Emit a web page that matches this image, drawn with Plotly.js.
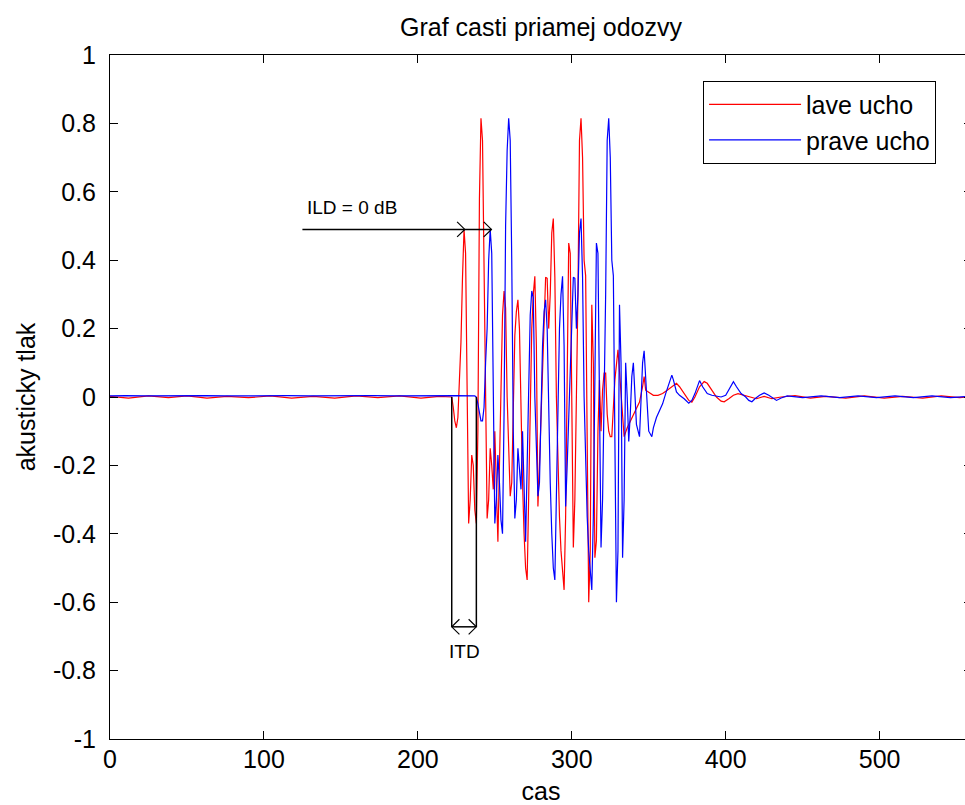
<!DOCTYPE html>
<html>
<head>
<meta charset="utf-8">
<script src="https://cdn.plot.ly/plotly-3.0.1.min.js"></script>
<style>
html,body{margin:0;padding:0;overflow:hidden;background:#ffffff;}
#chart{width:1000px;height:805px;}
</style>
</head>
<body>
<div id="chart"></div>
<script>
// ---- texts ----
const chartTitle = 'Graf casti priamej odozvy';
const xTitle = 'cas';
const yTitle = 'akusticky tlak';
const seriesNames = ['lave ucho', 'prave ucho'];
const ildLabel = 'ILD = 0 dB';
const itdLabel = 'ITD';

// ---- ticks ----
const xTickVals = [0, 100, 200, 300, 400, 500];
const xTickText = ['0', '100', '200', '300', '400', '500'];
const yTickVals = [-1, -0.8, -0.6, -0.4, -0.2, 0, 0.2, 0.4, 0.6, 0.8, 1];
const yTickText = ['-1', '-0.8', '-0.6', '-0.4', '-0.2', '0', '0.2', '0.4', '0.6', '0.8', '1'];

// ---- lave ucho (left ear) samples ----
const redX = [0,12,25,38,50,63,76,90,104,118,132,146,160,174,188,202,214,221,
  222,223,224,225,226,227,228,229,230,231,232,233,234,235,236,237,238,239,240,241,242,243,244,245,246,247,248,249,250,251,252,253,254,255,256,257,258,259,260,261,262,263,264,265,266,267,268,269,270,271,272,273,274,275,276,277,278,279,280,281,282,283,284,285,286,287,288,289,290,291,292,293,294,295,296,297,298,299,300,301,302,303,304,305,306,307,308,309,310,311,312,313,314,315,316,317,318,319,320,321,322,323,324,325,326,328,330,332,334,336,338,340,342,344,346,347,348,350,353,356,359,362,365,368,370,373,376,378,380,383,386,388,391,394,397,399,402,405,408,412,416,420,425,430,436,445,455,465,478,490,503,515,528,540,552,560];
const redY = [0.002,-0.003,0.003,-0.002,0.003,-0.003,0.002,-0.002,0.003,-0.003,0.002,-0.003,0.003,-0.002,0.003,-0.003,0.002,0,
  0,-0.03,-0.07,-0.09,-0.06,0.05,0.16,0.35,0.49,0.42,-0.05,-0.37,-0.3,-0.17,-0.2,-0.33,-0.37,-0.1,0.58,0.815,0.75,0.415,0,-0.355,-0.3,-0.15,-0.2,-0.27,-0.1,-0.3,-0.423,-0.2,0.05,0.24,0.31,0.26,0,-0.15,-0.29,-0.25,-0.05,0.18,0.25,0.284,0.2,-0.05,-0.25,-0.4,-0.5,-0.535,-0.3,0,0.2,0.3,0.353,0.15,-0.32,-0.2,-0.05,0.1,0.25,0.35,0.347,0.2,0.3,0.48,0.522,0.35,0,-0.2,-0.35,-0.45,-0.52,-0.564,-0.35,0.1,0.45,0.42,-0.1,-0.44,-0.3,-0.05,0.3,0.75,0.815,0.7,0.4,0.355,-0.2,-0.6,-0.45,0.27,0.1,-0.47,-0.42,-0.1,0.05,-0.1,0.02,0.07,0.07,-0.05,-0.1,-0.116,-0.116,0.05,0.138,0,-0.116,-0.09,-0.07,-0.05,-0.03,-0.015,0.03,0.06,0.02,0.015,0.005,0.005,0.01,0.02,0.03,0.04,0.03,0.01,-0.01,-0.015,0,0.03,0.045,0.04,0.02,0,-0.012,-0.014,-0.005,0.005,0.01,0.005,0,-0.005,0.002,-0.005,0,0.004,-0.003,0.002,-0.003,0.003,-0.003,0.002,-0.003,0.003,-0.002,0.002];

// ---- prave ucho (right ear) samples ----
const blueX = [0,10,23,36,49,62,75,88,101,115,129,143,157,171,185,199,212,225,237,
  238,239,240,241,242,243,244,245,246,247,248,249,250,251,252,253,254,255,256,257,258,259,260,261,262,263,264,265,266,267,268,269,270,271,272,273,274,275,276,277,278,279,280,281,282,283,284,285,286,287,288,289,290,291,292,293,294,295,296,297,298,299,300,301,302,303,304,305,306,307,308,309,310,311,312,313,314,315,316,317,318,319,320,321,322,323,324,325,326,327,328,329,330,331,332,333,334,335,336,337,338,339,340,341,342,344,345,346,347,348,349,350,352,353,355,357,359,361,363,365,366,368,370,373,376,378,380,382,383,385,388,391,394,397,400,403,405,407,410,413,415,417,419,422,425,428,431,433,436,440,450,462,474,486,498,510,522,534,546,560];
const blueY = [0.003,0.004,0.003,0.004,0.003,0.004,0.003,0.004,0.003,0.004,0.003,0.004,0.003,0.004,0.003,0.004,0.003,0.004,0.003,
  0,-0.02,-0.05,-0.07,-0.07,-0.03,0.1,0.2,0.4,0.49,0.42,-0.05,-0.37,-0.3,-0.17,-0.25,-0.36,-0.4,-0.05,0.5,0.72,0.815,0.75,0.4,-0.1,-0.355,-0.3,-0.15,-0.2,-0.27,-0.1,-0.3,-0.423,-0.2,0.05,0.24,0.31,0.29,0,-0.15,-0.29,-0.25,-0.05,0.15,0.25,0.284,0.2,-0.05,-0.25,-0.4,-0.5,-0.535,-0.3,0,0.2,0.3,0.353,0.15,-0.32,-0.2,-0.05,0.1,0.25,0.35,0.347,0.2,0.3,0.48,0.522,0.35,0,-0.2,-0.35,-0.45,-0.52,-0.564,-0.35,0.1,0.45,0.42,-0.1,-0.44,-0.3,-0.05,0.3,0.75,0.815,0.7,0.4,0.355,-0.2,-0.6,-0.45,0.27,0.1,-0.47,-0.3,0.1,0,-0.13,-0.05,0.06,0.1,0,-0.08,-0.116,0,0.1,0.135,0.06,-0.03,-0.1,-0.116,-0.09,-0.06,-0.04,-0.02,0.01,0.04,0.064,0.05,0.015,0.005,-0.005,-0.018,-0.01,0.01,0.04,0.048,0.03,0.01,0.005,0.002,0,0.005,0.03,0.045,0.03,0.01,0,-0.01,-0.014,-0.005,0.005,0.012,0.005,-0.005,-0.01,-0.003,0.003,-0.002,0.003,-0.002,0.003,-0.002,0.003,-0.002,0.003,-0.002,0.003];

// ---- annotation anchors (data units) ----
const ildStartX = 125, ildRedX = 230.5, ildBlueX = 247.8, ildY = 0.49;
const itdLeftX = 222, itdRightX = 238, itdTopY = 0, itdBottomY = -0.672;
const headDX = 5, headDY = 0.022;

const redTrace = {
  x: redX, y: redY, type: 'scatter', mode: 'lines', name: seriesNames[0],
  line: {color: '#ff0000', width: 1.2}
};
const blueTrace = {
  x: blueX, y: blueY, type: 'scatter', mode: 'lines', name: seriesNames[1],
  line: {color: '#0000ff', width: 1.2}
};

function chevronRight(x, y) {
  return `M${x - headDX},${y + headDY} L${x},${y} L${x - headDX},${y - headDY}`;
}
function chevronLeft(x, y) {
  return `M${x + headDX},${y + headDY} L${x},${y} L${x + headDX},${y - headDY}`;
}
const blackLine = {color: '#000000', width: 1.5};
const shapes = [
  {type: 'line', xref: 'x', yref: 'y', x0: ildStartX, x1: ildBlueX, y0: ildY, y1: ildY, line: blackLine},
  {type: 'path', xref: 'x', yref: 'y', path: chevronRight(ildRedX, ildY), line: {color: '#000', width: 1.2}},
  {type: 'path', xref: 'x', yref: 'y', path: chevronRight(ildBlueX, ildY), line: {color: '#000', width: 1.2}},
  {type: 'line', xref: 'x', yref: 'y', x0: itdLeftX, x1: itdLeftX, y0: itdTopY, y1: itdBottomY, line: blackLine},
  {type: 'line', xref: 'x', yref: 'y', x0: itdRightX, x1: itdRightX, y0: itdTopY, y1: itdBottomY, line: blackLine},
  {type: 'line', xref: 'x', yref: 'y', x0: itdLeftX, x1: itdRightX, y0: itdBottomY, y1: itdBottomY, line: blackLine},
  {type: 'path', xref: 'x', yref: 'y', path: chevronLeft(itdLeftX, itdBottomY), line: {color: '#000', width: 1.2}},
  {type: 'path', xref: 'x', yref: 'y', path: chevronRight(itdRightX, itdBottomY), line: {color: '#000', width: 1.2}}
];

const annotations = [
  {xref: 'x', yref: 'y', x: ildStartX + 2, y: 0.553, text: ildLabel, showarrow: false,
   xanchor: 'left', yanchor: 'middle', font: {size: 19, color: '#000'}},
  {xref: 'x', yref: 'y', x: (itdLeftX + itdRightX) / 2, y: -0.745, text: itdLabel, showarrow: false,
   xanchor: 'center', yanchor: 'middle', font: {size: 19, color: '#000'}}
];

const axisCommon = {
  showline: true, linecolor: '#000', linewidth: 1, mirror: 'ticks',
  ticks: 'inside', ticklen: 8, tickwidth: 1, tickcolor: '#000',
  showgrid: false, zeroline: false, tickfont: {size: 25, color: '#000'}
};

const layout = {
  width: 1000, height: 805,
  margin: {l: 110, r: 28, t: 55, b: 66},
  paper_bgcolor: '#ffffff', plot_bgcolor: '#ffffff',
  font: {family: '"Liberation Sans", Arial, sans-serif', size: 25, color: '#000'},
  title: {text: chartTitle, xref: 'paper', x: 0.5, xanchor: 'center',
          yref: 'container', y: 1 - 27 / 805, yanchor: 'middle', font: {size: 25, color: '#000'}},
  xaxis: Object.assign({}, axisCommon, {
    range: [0, 560], tickmode: 'array', tickvals: xTickVals, ticktext: xTickText,
    ticklabelstandoff: -2,
    title: {text: xTitle, font: {size: 25, color: '#000'}, standoff: 16}
  }),
  yaxis: Object.assign({}, axisCommon, {
    range: [-1, 1], tickmode: 'array', tickvals: yTickVals, ticktext: yTickText,
    ticklabelstandoff: 8,
    title: {text: yTitle, font: {size: 25, color: '#000'}, standoff: 10}
  }),
  showlegend: true,
  legend: {x: 0.688, y: 0.9624, xanchor: 'left', yanchor: 'top', xref: 'paper', yref: 'paper',
           bgcolor: '#ffffff', bordercolor: '#000000', borderwidth: 1,
           font: {size: 25, color: '#000'}, itemwidth: 92, tracegroupgap: 0},
  shapes: shapes,
  annotations: annotations
};

Plotly.newPlot('chart', [redTrace, blueTrace], layout, {displayModeBar: false, responsive: false});
</script>
</body>
</html>
